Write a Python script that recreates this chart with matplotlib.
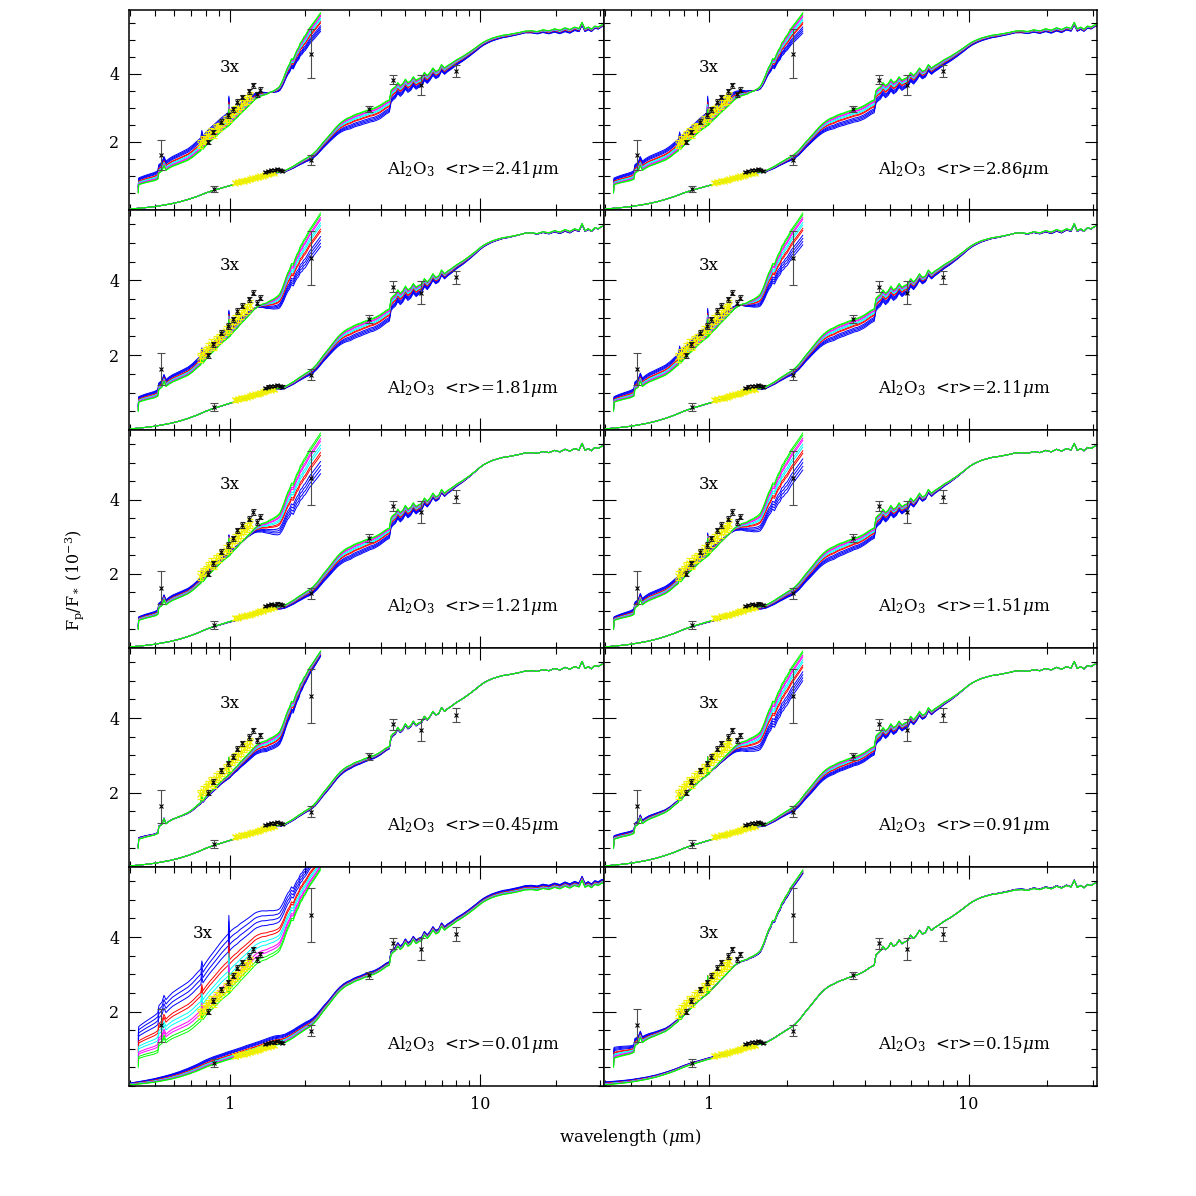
"""
Planet/star flux ratio vs wavelength for a grid of Al2O3 cloud models
(10 panels, mean particle radius <r> noted in each), with the 0.4-2.3 um
part repeated at 3x scale.
"""

import matplotlib
matplotlib.use("Agg")
import matplotlib.pyplot as plt
import numpy as np
from matplotlib.ticker import FixedLocator, MultipleLocator, NullFormatter, FixedFormatter

plt.rcParams["font.family"] = ["DejaVu Serif"]
plt.rcParams["mathtext.fontset"] = "dejavuserif"

# ---- model spectrum (top, green, envelope), 1x part ----
wave_1x = [0.40, 0.43, 0.46, 0.50, 0.54, 0.58, 0.63, 0.68, 0.74, 0.80,
           0.86, 0.92, 0.98, 1.04, 1.10, 1.17, 1.24, 1.31, 1.38, 1.45,
           1.52, 1.59, 1.66, 1.73, 1.80, 1.87, 1.94, 2.01, 2.08, 2.15,
           2.22, 2.29, 2.36, 2.44, 2.52, 2.60, 2.68, 2.76, 2.85, 2.94,
           3.03, 3.12, 3.22, 3.32, 3.42, 3.52, 3.63, 3.74, 3.85, 3.97,
           4.09, 4.21, 4.33, 4.40, 4.48, 4.58, 4.68, 4.79, 4.90, 5.02,
           5.14, 5.27, 5.40, 5.54, 5.68, 5.83, 5.98, 6.14, 6.30, 6.47,
           6.64, 6.82, 7.00, 7.20, 7.40, 7.60, 7.82, 8.04, 8.27, 8.51,
           8.76, 9.02, 9.30, 9.60, 9.92, 10.3, 10.7, 11.2, 11.7, 12.3,
           12.9, 13.6, 14.3, 15.1, 16.0, 16.9, 17.8, 18.8, 19.8, 20.8,
           21.8, 22.8, 23.8, 24.8, 25.5, 26.2, 27.0, 27.8, 28.7, 29.6,
           30.5, 31.5]
flux_1x = [0.03, 0.05, 0.07, 0.10, 0.14, 0.18, 0.24, 0.31, 0.40, 0.50,
           0.58, 0.64, 0.70, 0.75, 0.80, 0.86, 0.91, 0.96, 1.01, 1.06,
           1.10, 1.12, 1.16, 1.23, 1.30, 1.38, 1.45, 1.52, 1.58, 1.66,
           1.76, 1.88, 2.00, 2.12, 2.24, 2.36, 2.47, 2.56, 2.64, 2.70,
           2.74, 2.79, 2.83, 2.86, 2.90, 2.93, 2.97, 2.99, 3.03, 3.08,
           3.14, 3.20, 3.24, 3.52, 3.58, 3.63, 3.75, 3.66, 3.72, 3.85,
           3.75, 3.80, 3.92, 3.82, 3.87, 3.90, 4.05, 3.96, 4.05, 4.18,
           4.08, 4.12, 4.28, 4.18, 4.25, 4.30, 4.36, 4.42, 4.47, 4.52,
           4.58, 4.64, 4.71, 4.78, 4.86, 4.94, 5.00, 5.06, 5.10, 5.14,
           5.16, 5.19, 5.22, 5.26, 5.27, 5.25, 5.30, 5.27, 5.33, 5.29,
           5.36, 5.31, 5.38, 5.34, 5.52, 5.33, 5.38, 5.32, 5.41, 5.38,
           5.44, 5.46]

# ---- model spectrum, 3x part ----
wave_3x = [0.430, 0.432, 0.44, 0.46, 0.48, 0.50, 0.515, 0.520, 0.535, 0.545,
           0.555, 0.57, 0.59, 0.62, 0.65, 0.68, 0.71, 0.74, 0.765, 0.772,
           0.78, 0.80, 0.83, 0.86, 0.89, 0.92, 0.95, 0.975, 0.985, 0.99,
           0.995, 1.01, 1.04, 1.07, 1.10, 1.13, 1.16, 1.19, 1.22, 1.25,
           1.28, 1.31, 1.34, 1.37, 1.40, 1.43, 1.46, 1.49, 1.52, 1.55,
           1.58, 1.61, 1.64, 1.67, 1.70, 1.73, 1.76, 1.79, 1.82, 1.85,
           1.88, 1.91, 1.94, 1.97, 2.00, 2.04, 2.08, 2.12, 2.16, 2.20,
           2.25, 2.30]
flux_3x = [0.50, 0.74, 0.76, 0.80, 0.83, 0.86, 0.90, 1.08, 1.14, 1.30,
           1.16, 1.22, 1.28, 1.34, 1.40, 1.46, 1.55, 1.66, 1.74, 1.95,
           1.78, 1.88, 2.00, 2.10, 2.20, 2.30, 2.38, 2.44, 2.46, 2.95,
           2.48, 2.54, 2.64, 2.72, 2.82, 2.90, 2.98, 3.06, 3.14, 3.22,
           3.28, 3.32, 3.36, 3.38, 3.40, 3.44, 3.47, 3.50, 3.54, 3.58,
           3.64, 3.76, 3.90, 4.06, 4.20, 4.30, 4.45, 4.44, 4.58, 4.70,
           4.78, 4.92, 4.98, 5.08, 5.14, 5.25, 5.36, 5.44, 5.52, 5.60,
           5.70, 5.80]

# ---- per panel: <r> label and blue-minus-green spread ----
panel_radius = ["2.41", "2.86", "1.81", "2.11", "1.21", "1.51", "0.45", "0.91", "0.01", "0.15"]

spread_wave_3x = [0.43, 0.6, 0.8, 1.0, 1.2, 1.4, 1.6, 1.8, 2.0, 2.3]
spread_3x = [
    [0.20, 0.30, 0.40, 0.40, 0.25, 0.05, -0.15, -0.30, -0.45, -0.55],
    [0.20, 0.30, 0.35, 0.40, 0.30, 0.10, -0.10, -0.30, -0.45, -0.60],
    [0.15, 0.20, 0.25, 0.25, 0.10, -0.15, -0.40, -0.60, -0.80, -0.90],
    [0.15, 0.25, 0.30, 0.30, 0.15, -0.10, -0.35, -0.55, -0.75, -0.85],
    [0.10, 0.15, 0.15, 0.10, -0.05, -0.30, -0.60, -0.85, -1.00, -1.10],
    [0.10, 0.20, 0.20, 0.15, 0.00, -0.25, -0.50, -0.75, -0.95, -1.00],
    [0.05, 0.00, -0.05, -0.10, -0.20, -0.30, -0.35, -0.30, -0.20, -0.15],
    [0.10, 0.10, 0.05, 0.00, -0.10, -0.30, -0.50, -0.70, -0.80, -0.80],
    [0.85, 1.25, 1.43, 1.64, 1.45, 1.30, 1.10, 0.85, 0.70, 0.55],
    [0.30, 0.12, 0.05, 0.00, 0.00, -0.02, -0.05, -0.05, -0.08, -0.10],
]

spread_wave_1x = [0.4, 0.8, 1.5, 2.0, 2.5, 3.0, 4.0, 5.0, 7.0, 10.0, 15.0, 22.0, 31.5]
spread_1x = [
    [0.00, 0.00, 0.00, -0.10, -0.20, -0.35, -0.40, -0.30, -0.20, -0.10, -0.05, -0.12, -0.05],
    [0.00, 0.00, 0.00, -0.10, -0.20, -0.35, -0.40, -0.35, -0.20, -0.10, -0.05, -0.10, -0.05],
    [0.00, 0.00, -0.02, -0.10, -0.20, -0.35, -0.35, -0.30, -0.15, -0.05, 0.00, -0.05, 0.00],
    [0.00, 0.00, -0.02, -0.10, -0.20, -0.35, -0.35, -0.30, -0.15, -0.05, 0.00, -0.05, 0.00],
    [0.00, 0.00, -0.05, -0.15, -0.25, -0.35, -0.30, -0.25, -0.10, 0.00, 0.00, 0.00, 0.00],
    [0.00, 0.00, -0.05, -0.15, -0.25, -0.35, -0.30, -0.25, -0.10, 0.00, 0.00, 0.00, 0.00],
    [0.00, 0.00, -0.02, -0.05, -0.10, -0.10, -0.08, -0.05, 0.00, 0.00, 0.00, 0.00, 0.00],
    [0.00, 0.00, -0.02, -0.10, -0.20, -0.25, -0.25, -0.20, -0.10, 0.00, 0.00, 0.00, 0.00],
    [0.05, 0.20, 0.25, 0.20, 0.12, 0.10, 0.10, 0.10, 0.10, 0.10, 0.12, 0.12, 0.10],
    [0.08, 0.05, 0.02, 0.00, 0.00, 0.00, 0.00, 0.00, 0.00, 0.00, 0.02, 0.02, 0.00],
]

# ---- observations ----
phot_wave_1x = [0.86, 2.10, 3.60, 4.50, 5.80, 8.00]
phot_flux_1x = [0.62, 1.48, 2.97, 3.83, 3.67, 4.08]
phot_err_1x = [0.10, 0.15, 0.10, 0.14, 0.30, 0.18]

phot_wave_3x = [0.53, 2.10]
phot_flux_3x = [1.63, 4.59]
phot_err_3x = [0.44, 0.72]

spec_wave_1x = [1.38, 1.42, 1.46, 1.50, 1.54, 1.58, 1.62]
spec_flux_1x = [1.13, 1.16, 1.18, 1.17, 1.20, 1.18, 1.16]

spec_wave_3x = [0.815, 0.857, 0.923, 0.985, 1.024, 1.071, 1.113, 1.188, 1.231, 1.28, 1.318]
spec_flux_3x = [2.00, 2.29, 2.60, 2.78, 2.96, 3.18, 3.32, 3.49, 3.67, 3.40, 3.54]

yellow_wave_1x = [1.05, 1.08, 1.11, 1.14, 1.17, 1.20, 1.23, 1.26, 1.29, 1.32, 1.35, 1.38, 1.42, 1.46, 1.50]
yellow_flux_1x = [0.80, 0.82, 0.85, 0.86, 0.88, 0.90, 0.93, 0.95, 0.97, 0.99, 1.01, 1.04, 1.06, 1.08, 1.10]

yellow_wave_3x = [0.76, 0.78, 0.80, 0.82, 0.84, 0.86, 0.88, 0.90, 0.93, 0.96,
                  0.99, 1.02, 1.05, 1.08, 1.11, 1.14, 1.17, 1.20]
yellow_flux_3x = [1.95, 2.05, 2.10, 2.20, 2.30, 2.25, 2.40, 2.45, 2.55, 2.65,
                  2.70, 2.85, 2.95, 3.00, 3.10, 3.20, 3.25, 3.35]

# colour groups of the model bundle: 0 = blue edge, 1 = green edge
BUNDLE = [
    ("#0000ff", [0.0, 0.1, 0.2, 0.3]),
    ("#ff0000", [0.45, 0.52]),
    ("#00ffff", [0.62, 0.70]),
    ("#ff00ff", [0.80, 0.86]),
    ("#00ff00", [0.94, 1.0]),
]

COLS_PX = [(129, 604), (604, 1097)]
ROWS_PX = [(10, 210), (210, 430), (430, 648), (648, 867), (867, 1086)]
FIG_PX = 1196


def draw_bundle(ax, wave, flux, s_wave, s_vals):
    wave = np.asarray(wave)
    flux = np.asarray(flux)
    spread = np.interp(np.log10(wave), np.log10(s_wave), s_vals)
    for color, fracs in BUNDLE:
        for f in fracs:
            ax.plot(wave, flux + (1 - f) * spread, color=color, lw=0.7, zorder=2)


def draw_obs(ax):
    ax.errorbar(yellow_wave_3x, yellow_flux_3x, yerr=0.12, fmt="x", color="#f0f000",
                ms=5, mew=0.9, elinewidth=0.8, capsize=2, zorder=4)
    ax.errorbar(yellow_wave_1x, yellow_flux_1x, yerr=0.05, fmt="x", color="#f0f000",
                ms=5, mew=0.9, elinewidth=0.8, capsize=2, zorder=4)
    ax.errorbar(spec_wave_3x, spec_flux_3x, yerr=0.07, fmt="x", color="k", ecolor="0.15",
                ms=3, mew=0.8, elinewidth=0.7, capsize=1.8, zorder=5)
    ax.errorbar(spec_wave_1x, spec_flux_1x, yerr=0.03, fmt="x", color="k", ecolor="0.15",
                ms=3, mew=0.8, elinewidth=0.7, capsize=1.8, zorder=5)
    for w, f, e in [(phot_wave_1x, phot_flux_1x, phot_err_1x), (phot_wave_3x, phot_flux_3x, phot_err_3x)]:
        ax.errorbar(w, f, yerr=e, fmt="x", color="k", ecolor="0.3",
                    ms=3.5, mew=0.8, elinewidth=0.8, capsize=3, zorder=5)


def style_axes(ax, bottom_row):
    ax.set_xscale("log")
    ax.set_xlim(0.395, 31.2)
    ax.set_ylim(0, 5.88)
    ax.xaxis.set_major_locator(FixedLocator([1, 10]))
    ax.xaxis.set_minor_locator(FixedLocator([0.4, 0.5, 0.6, 0.7, 0.8, 0.9,
                                             2, 3, 4, 5, 6, 7, 8, 9, 20, 30]))
    ax.xaxis.set_minor_formatter(NullFormatter())
    if bottom_row:
        ax.xaxis.set_major_formatter(FixedFormatter(["1", "10"]))
    else:
        ax.xaxis.set_major_formatter(NullFormatter())
    ax.yaxis.set_major_locator(FixedLocator([2, 4]))
    ax.yaxis.set_minor_locator(MultipleLocator(0.5))
    ax.tick_params(which="both", direction="in", top=True, right=True, width=0.8,
                   labelsize=11.5, pad=7)
    ax.tick_params(which="major", length=8.5)
    ax.tick_params(which="minor", length=4.3)
    for sp in ax.spines.values():
        sp.set_linewidth(1.1)


def main():
    fig = plt.figure(figsize=(FIG_PX / 100, FIG_PX / 100), dpi=100)

    for idx, radius in enumerate(panel_radius):
        row, col = divmod(idx, 2)
        x0, x1 = COLS_PX[col]
        y0, y1 = ROWS_PX[row]
        ax = fig.add_axes([x0 / FIG_PX, 1 - y1 / FIG_PX, (x1 - x0) / FIG_PX, (y1 - y0) / FIG_PX])

        draw_bundle(ax, wave_3x, flux_3x, spread_wave_3x, spread_3x[idx])
        draw_bundle(ax, wave_1x, flux_1x, spread_wave_1x, spread_1x[idx])
        draw_obs(ax)
        style_axes(ax, row == 4)
        if col == 1:
            ax.yaxis.set_major_formatter(NullFormatter())

        label_x = 0.78 if idx == 8 else 1.0
        label_y = 4.2 if row == 0 else (4.1 if row == 4 else 4.4)
        ax.text(label_x, label_y, "3x", fontsize=12, ha="center", va="center")
        ax.text(0.543 if col == 0 else 0.556, 0.2 if row == 0 else 0.19,
                r"Al$_2$O$_3$  <r>=" + radius + r"$\mu$m",
                transform=ax.transAxes, fontsize=12, ha="left", va="center")

    fig.text(75 / FIG_PX, 1 - 580 / FIG_PX, r"F$_\mathrm{p}$/F$_*$ (10$^{-3}$)",
             rotation=90, fontsize=11.5, ha="center", va="center")
    fig.text(630 / FIG_PX, 1 - 1137 / FIG_PX, r"wavelength ($\mu$m)",
             fontsize=12, ha="center", va="center")

    fig.savefig("out.png", dpi=100)
    plt.close(fig)


if __name__ == "__main__":
    main()
